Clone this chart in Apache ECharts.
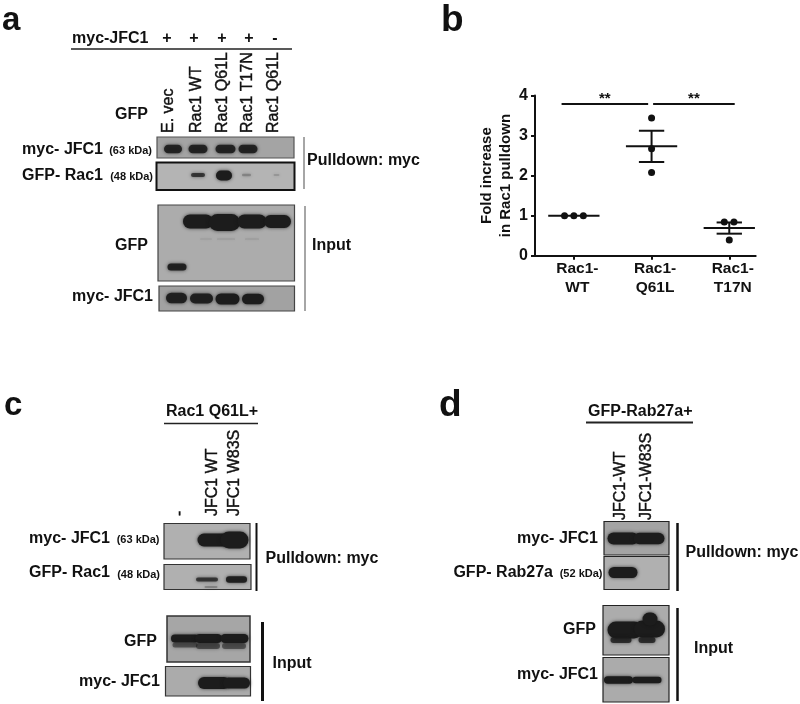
<!DOCTYPE html>
<html><head><meta charset="utf-8">
<style>html,body{margin:0;padding:0;background:#fff}#c{width:800px;height:704px;filter:blur(0.45px)}</style>
<script src="https://cdn.jsdelivr.net/npm/echarts@6/dist/echarts.min.js"></script>
</head><body><div id="c"></div>
<script>
// ---- panel b data ----
const categories = ['Rac1-\nWT', 'Rac1-\nQ61L', 'Rac1-\nT17N'];
const yTicks = [0, 1, 2, 3, 4];
const wtValues = [1, 1, 1];
const q61lValues = [3.44, 2.67, 2.08];
const t17nValues = [0.84, 0.84, 0.39];
const means = [1, 2.73, 0.69];
const semLow = [1, 2.34, 0.55];
const semHigh = [1, 3.12, 0.83];
const wtJitter = [-0.12, 0, 0.122];
const q61lJitter = [0, 0, 0];
const t17nJitter = [-0.064, 0.06, 0];
const sigStart = [-0.158, 1.02];
const sigEnd = [0.956, 2.07];
const sigLevel = [3.79, 3.79];
const sigLabel = ['**', '**'];

const F = '"Liberation Sans", Arial, sans-serif';
const ink = '#111';

// ---- blot figure texts: [text, x, y, size, weight, align] ----
const figureTexts = [
 ['a',2,20.5,33,'bold','left'],['b',441,20.5,37,'bold','left'],['c',4,406,33,'bold','left'],['d',439,406,37,'bold','left'],
 ['myc-JFC1',72,39,16,'bold','left'],['+',167,39,16,'bold','center'],['+',194,39,16,'bold','center'],['+',222,39,16,'bold','center'],['+',249,39,16,'bold','center'],['-',275,39,16,'bold','center'],
 ['GFP',148,114.5,16,'bold','right'],
 ['myc- JFC1',103,149.5,16,'bold','right'],['(63 kDa)',152,150.5,11,'bold','right'],
 ['GFP- Rac1',103,175.5,16,'bold','right'],['(48 kDa)',153,176.5,11,'bold','right'],
 ['GFP',148,245.5,16,'bold','right'],['myc- JFC1',153,297,16,'bold','right'],
 ['Pulldown: myc',307,160.5,16,'bold','left'],['Input',312,245.5,16,'bold','left'],
 ['Rac1 Q61L+',166,412,16,'bold','left'],
 ['myc- JFC1',110,538.5,16,'bold','right'],['(63 kDa)',159.5,540,11,'bold','right'],
 ['GFP- Rac1',110,573,16,'bold','right'],['(48 kDa)',160,574.5,11,'bold','right'],
 ['GFP',157,642,16,'bold','right'],['myc- JFC1',160,682,16,'bold','right'],
 ['Pulldown: myc',265.5,559,16,'bold','left'],['Input',272.5,663.5,16,'bold','left'],
 ['GFP-Rab27a+',588,412,16,'bold','left'],
 ['myc- JFC1',598,538.5,16,'bold','right'],['GFP- Rab27a',553,572.5,16,'bold','right'],['(52 kDa)',602.5,574,11,'bold','right'],
 ['GFP',596,630,16,'bold','right'],['myc- JFC1',598,675,16,'bold','right'],
 ['Pulldown: myc',685.5,553,16,'bold','left'],['Input',694,648.5,16,'bold','left']
];
// rotated lane labels: [text, x, yBottom]
const laneTexts = [
 ['E. vec',169,133],['Rac1 WT',197,133],['Rac1 Q61L',223,133],['Rac1 T17N',248,133],['Rac1 Q61L',274,133],
 ['-',180,516],['JFC1 WT',213,516],['JFC1 W83S',235,516],
 ['JFC1-WT',620.5,520],['JFC1-W83S',647,520]
];
// rule lines: [x1,y1,x2,y2,width,color]
const ruleLines = [
 [71,49,292,49,1.5,'#222'],[304,137,304,189,1.5,'#888'],[305,206,305,311,1.5,'#888'],
 [164,423.5,258,423.5,1.5,'#222'],[256.5,523,256.5,591,2,'#111'],[262.5,622,262.5,701,3,'#111'],
 [586,422.5,693,422.5,2,'#222'],[677.5,523,677.5,591,2.5,'#111'],[677.5,608,677.5,701,2.5,'#111']
];
// blot panels: [x,y,w,h,border,fill,borderWidth]
const blotPanels = [
 [157,137,137,21,'#555','#a4a4a4',1.2],[156.5,162.5,138,27.5,'#111','#b4b4b4',2],[158,205,136.5,76,'#444','#acacac',1.2],[159,286,135.5,25,'#444','#a2a2a2',1.2],
 [164,523.5,86,35.5,'#333','#b0b0b0',1.2],[164,564.5,87,25,'#333','#b0b0b0',1.2],[167,616,83,46,'#333','#a6a6a6',1.5],[165.5,666.5,85,29.5,'#333','#ababab',1.2],
 [604,521.5,65,33.5,'#222','#a4a4a4',1.2],[604,556.5,65,33,'#222','#b0b0b0',1.2],[603,605.5,66,49.5,'#222','#acacac',1.2],[603,657.5,66,44.5,'#222','#ababab',1.2]
];
// blot bands: [cx,cy,w,h,opacity]
const blotBands = [
 [173,149,18,8.5,.9],[198,149,19,8.5,.9],[225.5,149,20,8.5,.9],[248,149,19,8.5,.9],
 [198,175,14,4,.75],[224,175.5,16,10,1],[246.5,175,9,2.5,.25],[276.5,175,6,2,.15],
 [198,221.5,30,14,1],[224.5,222.5,31,17,1],[252,221.5,29,14,1],[277.5,221.5,27,13,1],[177,267,19,7,.95],[206,239,12,1,.1],[226,239,18,1,.12],[252,239,14,1,.12],
 [176.5,298,21,10.5,.95],[201.5,298.5,23,10,.95],[227.5,299,24,11,1],[253,299,22,10.5,1],
 [214,540,33,13,1],[234.5,540,28,17,1],
 [207,579.5,22,4,.75],[236.5,579.5,21,6.5,.95],[211,587,13,2,.25],
 [185,638.5,28,8,1],[208.5,638.5,27,9,1],[234.5,638.5,28,9,1],[185,645,25,5,.5],[208,646,24,6,.55],[234,646,24,6,.5],
 [214,683,32,12,1],[236.5,683,27,11,1],
 [623,538.5,31,12,1],[649,538.5,31,11.5,1],
 [623,572.5,29,11,1],
 [625,630,35,17,1],[649.5,629,31,17,1],[650,619,15,13,1],[621,640,21,6,.8],[647,640,17,6,.8],
 [618.5,680,29,7.5,1],[647,680,29,6.5,1]
];

function rotatedText(t){return {type:'text',x:t[1],y:t[2],rotation:Math.PI/2,z:5,
  style:{text:t[0],font:'normal 16px '+F,fill:ink,textAlign:'left',textVerticalAlign:'middle',stroke:ink,lineWidth:.4}};}
const graphics = [];
blotPanels.forEach(p=>graphics.push({type:'rect',z:1,shape:{x:p[0],y:p[1],width:p[2],height:p[3]},style:{fill:p[5],stroke:p[4],lineWidth:p[6]}}));
blotBands.forEach(b=>graphics.push({type:'rect',z:2,shape:{x:b[0]-b[2]/2,y:b[1]-b[3]/2,width:b[2],height:b[3],r:b[3]/2},
  style:{fill:'#1c1c1c',opacity:b[4],shadowBlur:3.5,shadowColor:'rgba(20,20,20,.75)'}}));
ruleLines.forEach(l=>graphics.push({type:'line',z:3,shape:{x1:l[0],y1:l[1],x2:l[2],y2:l[3]},style:{stroke:l[5],lineWidth:l[4]}}));
figureTexts.forEach(t=>graphics.push({type:'text',z:5,x:t[1],y:t[2],style:{text:t[0],font:t[4]+' '+t[3]+'px '+F,fill:ink,textAlign:t[5],textVerticalAlign:'middle'}}));
laneTexts.forEach(t=>graphics.push(rotatedText(t)));

const pointData = [];
[[wtValues,wtJitter],[q61lValues,q61lJitter],[t17nValues,t17nJitter]].forEach((g,i)=>
  g[0].forEach((v,j)=>pointData.push([i+g[1][j],v])));
const summaryData = means.map((m,i)=>[i,m,semLow[i],semHigh[i]]);
const sigData = sigStart.map((s,i)=>[s,sigEnd[i],sigLevel[i]]);
const MEAN_HALF=.33, CAP_HALF=.163;

const option = {
 animation:false, backgroundColor:'#fff', graphic:graphics,
 grid:{left:535,top:95.5,width:220.7,height:160.2},
 xAxis:{type:'value',min:-0.5,max:2.34,splitLine:{show:false},
  axisLine:{onZero:false,lineStyle:{color:ink,width:2}},
  axisTick:{length:4,customValues:[0,1,2],lineStyle:{color:ink,width:2}},
  axisLabel:{customValues:[0,1,2],margin:4,color:ink,fontFamily:F,fontWeight:'bold',fontSize:15.5,lineHeight:19,padding:[0,0,0,7],
   formatter:v=>categories[v]}},
 yAxis:{type:'value',min:0,max:4,interval:1,splitLine:{show:false},
  name:'Fold increase\nin Rac1 pulldown',nameLocation:'middle',nameGap:15.5,nameRotate:90,
  nameTextStyle:{color:ink,fontFamily:F,fontWeight:'bold',fontSize:15,lineHeight:19},
  axisLine:{show:true,onZero:false,lineStyle:{color:ink,width:2}},
  axisTick:{show:true,length:4,lineStyle:{color:ink,width:2}},
  axisLabel:{margin:7,color:ink,fontFamily:F,fontWeight:'bold',fontSize:16,
   formatter:v=>yTicks.includes(v)?String(v):''}},
 series:[
  {type:'custom',coordinateSystem:'cartesian2d',data:summaryData,z:3,clip:false,
   renderItem(p,api){
    const x=api.value(0),m=api.value(1),lo=api.value(2),hi=api.value(3);
    const seg=(a,b,c,d)=>{const s=api.coord([a,b]),e=api.coord([c,d]);
     return {type:'line',shape:{x1:s[0],y1:s[1],x2:e[0],y2:e[1]},style:{stroke:ink,lineWidth:2}};};
    const ch=[seg(x-MEAN_HALF,m,x+MEAN_HALF,m)];
    if(hi>lo){ch.push(seg(x,lo,x,hi),seg(x-CAP_HALF,lo,x+CAP_HALF,lo),seg(x-CAP_HALF,hi,x+CAP_HALF,hi));}
    return {type:'group',children:ch};
   }},
  {type:'scatter',data:pointData,symbol:'circle',symbolSize:7,itemStyle:{color:ink,opacity:1},z:4},
  {type:'custom',coordinateSystem:'cartesian2d',data:sigData,z:3,clip:false,
   encode:{x:[0,1],y:2},
   renderItem(p,api){
    const s=api.coord([api.value(0),api.value(2)]),e=api.coord([api.value(1),api.value(2)]);
    return {type:'group',children:[
     {type:'line',shape:{x1:s[0],y1:s[1],x2:e[0],y2:e[1]},style:{stroke:ink,lineWidth:2}},
     {type:'text',x:(s[0]+e[0])/2,y:s[1]+2,style:{text:sigLabel[p.dataIndex],font:'bold 15px '+F,fill:ink,textAlign:'center',textVerticalAlign:'bottom'}}
    ]};
   }}
 ]
};
echarts.init(document.getElementById('c')).setOption(option);
</script></body></html>
